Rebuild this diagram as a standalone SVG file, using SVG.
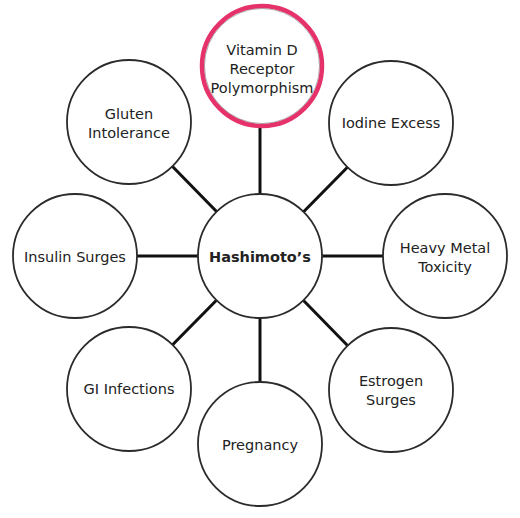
<svg xmlns="http://www.w3.org/2000/svg" width="520" height="518" viewBox="0 0 520 518">
<style>
.node circle{fill:#fff;stroke:#2b2b2b;stroke-width:1.8}
.node text{font-family:"DejaVu Sans",Verdana,sans-serif;font-size:14.5px;fill:#222;text-anchor:middle}
.conn line{stroke:#111;stroke-width:3}
.hl{stroke:#e6326a!important;stroke-width:4.5!important}
</style>
<rect width="520" height="518" fill="#fff"/>
<g id="connectors" class="conn">
<line x1="260" y1="256" x2="260" y2="66"/>
<line x1="260" y1="256" x2="129" y2="122"/>
<line x1="260" y1="256" x2="391" y2="123"/>
<line x1="260" y1="256" x2="75" y2="256"/>
<line x1="260" y1="256" x2="445" y2="256"/>
<line x1="260" y1="256" x2="129" y2="389"/>
<line x1="260" y1="256" x2="391" y2="390"/>
<line x1="260" y1="256" x2="260" y2="444"/>
</g>
<g id="center" class="node"><circle cx="260" cy="256" r="62"/><text x="260" y="262" font-weight="bold" style="font-weight:bold">Hashimoto’s</text></g>
<g id="vitamin-d" class="node"><circle cx="262" cy="66" r="60" class="hl"/><circle cx="262" cy="66" r="57.5" style="fill:none;stroke:#666;stroke-width:0.8;opacity:0.6"/><text x="262" y="55">Vitamin D</text><text x="262" y="74">Receptor</text><text x="262" y="93">Polymorphism</text></g>
<g id="gluten" class="node"><circle cx="129" cy="122" r="62"/><text x="129" y="119">Gluten</text><text x="129" y="138">Intolerance</text></g>
<g id="iodine" class="node"><circle cx="391" cy="123" r="62"/><text x="391" y="128">Iodine Excess</text></g>
<g id="insulin" class="node"><circle cx="75" cy="256" r="62"/><text x="75" y="262">Insulin Surges</text></g>
<g id="heavy-metal" class="node"><circle cx="445" cy="256" r="62"/><text x="445" y="253">Heavy Metal</text><text x="445" y="272">Toxicity</text></g>
<g id="gi" class="node"><circle cx="129" cy="389" r="62"/><text x="129" y="394">GI Infections</text></g>
<g id="estrogen" class="node"><circle cx="391" cy="390" r="62"/><text x="391" y="386">Estrogen</text><text x="391" y="405">Surges</text></g>
<g id="pregnancy" class="node"><circle cx="260" cy="444" r="62"/><text x="260" y="450">Pregnancy</text></g>
</svg>
